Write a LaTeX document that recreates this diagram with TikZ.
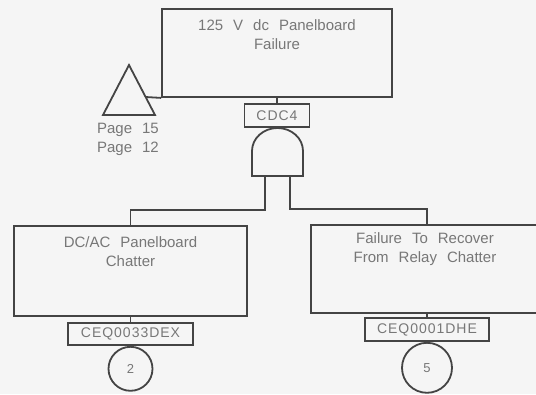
\documentclass[tikz,border=0pt]{standalone}
\usepackage{fontspec}
\setmainfont[WordSpace=2.4]{Liberation Sans}
\newfontfamily\labfont[LetterSpace=7]{Liberation Sans}
\definecolor{ink}{HTML}{444444}
\definecolor{txt}{HTML}{777777}
\definecolor{paper}{HTML}{F5F5F5}
\begin{document}
\begin{tikzpicture}[x=1pt,y=-1pt,
  line/.style={draw=ink,line width=1.8pt},
  evbox/.style={line,rectangle,inner sep=0pt},
  tagbox/.style={line,rectangle,inner sep=0pt,font=\labfont\fontsize{14}{16}\selectfont,text=txt},
  xfer/.style={line,circle,inner sep=0pt,font=\fontsize{13}{15}\selectfont,text=txt},
  lbl/.style={inner sep=0pt,align=center,text=txt,font=\fontsize{15}{19}\selectfont}]
\fill[paper] (0,0) rectangle (536,394);
\useasboundingbox (0,0) rectangle (536,394);
\clip (0,0) rectangle (536,394);
% top event
\node[evbox,minimum width=230pt,minimum height=88pt] (top) at (277,53) {};
\node[lbl] (toptxt) at (277,34.5) {125 V dc Panelboard\\Failure};
% transfer triangle
\coordinate (ta) at (129,65);
\coordinate (tr) at (155,115);
\coordinate (tl) at (103,115);
\coordinate (tj) at (145.6,97);
\draw[line,line join=miter] (ta) -- (tr) -- (tl) -- cycle;
\draw[line] (tj) -- (top.south west);
\node[lbl] (p15) at (128,130) {Page 15};
\node[lbl] (p12) at (128,149) {Page 12};
% gate label
\node[tagbox,minimum width=65pt,minimum height=23pt] (cdc) at (277,115.5) {CDC4};
\draw[line] (top.south) -- (cdc.north);
% AND gate
\coordinate (gbl) at (252,176);
\coordinate (gbr) at (303,176);
\coordinate (gL) at (265,176);
\coordinate (gR) at (290,176);
\draw[line,line join=miter] (gbl) -- (252,151) arc[start angle=180,end angle=0,x radius=25.5pt,y radius=23pt] -- (gbr) -- cycle;
% children
\node[evbox,minimum width=233pt,minimum height=90pt] (left) at (130.5,271) {};
\node[lbl] (lefttxt) at (130.5,252) {DC/AC Panelboard\\Chatter};
\node[evbox,minimum width=232pt,minimum height=88pt] (right) at (427,269) {};
\node[lbl] (righttxt) at (425,249.5) {Failure To Recover\\From Relay Chatter};
\draw[line] (gL) -- (265,210) -| (left.north);
\draw[line] (gR) -- (290,209) -| (right.north);
% tags
\node[tagbox,minimum width=125pt,minimum height=22pt] (tl1) at (130.5,334) {CEQ0033DEX};
\node[tagbox,minimum width=124pt,minimum height=23pt] (tr1) at (427,329.5) {CEQ0001DHE};
\draw[line] (left.south) -- (tl1.north);
\draw[line] (right.south) -- (tr1.north);
% transfer circles
\node[xfer,minimum size=44pt,anchor=north] (c2) at (tl1.south) {2};
\node[xfer,minimum size=50pt,anchor=north] (c5) at (tr1.south) {5};
\end{tikzpicture}
\end{document}
